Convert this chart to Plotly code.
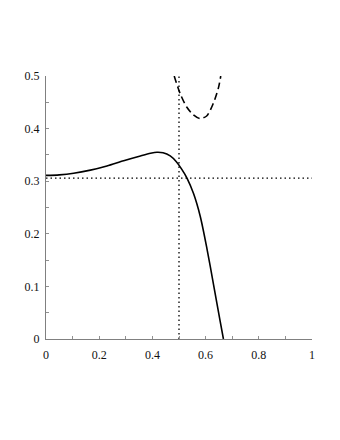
import plotly.graph_objects as go

# solid curve
solid_x = [0.0, 0.05, 0.104, 0.167, 0.229, 0.292, 0.355, 0.393, 0.417, 0.440, 0.467, 0.490, 0.510, 0.530, 0.555, 0.580, 0.605, 0.630, 0.655, 0.667]
solid_y = [0.311, 0.312, 0.315, 0.321, 0.329, 0.339, 0.348, 0.353, 0.355, 0.354, 0.348, 0.337, 0.323, 0.306, 0.276, 0.233, 0.172, 0.103, 0.033, 0.0]

# dashed curve
dash_x = [0.482, 0.504, 0.529, 0.554, 0.579, 0.604, 0.629, 0.648, 0.657]
dash_y = [0.500, 0.467, 0.441, 0.426, 0.419, 0.424, 0.448, 0.477, 0.500]

# dotted reference lines
h_level = 0.306
v_level = 0.5

x_ticks = [0, 0.2, 0.4, 0.6, 0.8, 1]
x_labels = ["0", "0.2", "0.4", "0.6", "0.8", "1"]
y_ticks = [0, 0.1, 0.2, 0.3, 0.4, 0.5]
y_labels = ["0", "0.1", "0.2", "0.3", "0.4", "0.5"]

fig = go.Figure()
fig.add_trace(go.Scatter(x=[0, 1], y=[h_level, h_level], mode="lines",
                         line=dict(color="black", width=1.3, dash="1.5px,3px"), hoverinfo="skip"))
fig.add_trace(go.Scatter(x=[v_level, v_level], y=[0, 0.5], mode="lines",
                         line=dict(color="black", width=1.3, dash="1.5px,3px"), hoverinfo="skip"))
fig.add_trace(go.Scatter(x=solid_x, y=solid_y, mode="lines", line_shape="spline",
                         line=dict(color="black", width=1.6, smoothing=0.8)))
fig.add_trace(go.Scatter(x=dash_x, y=dash_y, mode="lines", line_shape="spline",
                         line=dict(color="black", width=1.6, dash="7px,4px", smoothing=0.8)))

axis_common = dict(showgrid=False, zeroline=False, showline=True, linecolor="#808080",
                   linewidth=1, ticks="inside", ticklen=3, tickcolor="#909090",
                   tickfont=dict(family="Liberation Serif", size=12, color="#111111"))

fig.update_xaxes(range=[0, 1], tickvals=x_ticks, ticktext=x_labels, ticklabelstandoff=5,
                 minor=dict(dtick=0.1, ticks="inside", ticklen=3, tickcolor="#909090"),
                 **axis_common)
fig.update_yaxes(range=[0, 0.5], tickvals=y_ticks, ticktext=y_labels, ticklabelstandoff=3,
                 minor=dict(dtick=0.05, ticks="inside", ticklen=3, tickcolor="#909090"),
                 **axis_common)

fig.update_layout(width=324, height=424, showlegend=False,
                  margin=dict(l=38, r=20, t=68, b=93, autoexpand=False),
                  plot_bgcolor="white", paper_bgcolor="white")

fig.write_html("out.html")
